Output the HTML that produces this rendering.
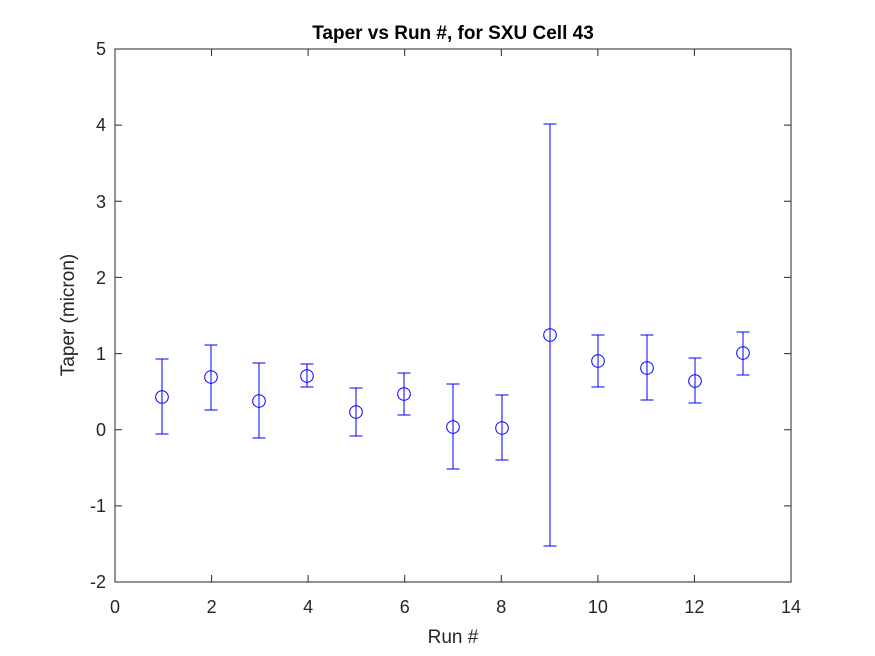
<!DOCTYPE html>
<html><head><style>body{margin:0;background:#fff}svg{display:block}</style></head>
<body>
<svg width="875" height="656" xmlns="http://www.w3.org/2000/svg" font-family="Liberation Sans, Arial, sans-serif">
<rect width="875" height="656" fill="#fff"/>
<rect x="115" y="49" width="676" height="533" fill="#fff" stroke="#262626" stroke-width="1"/>
<g stroke="#262626" stroke-width="1">
<path d="M115 582v-7M211.6 582v-7M308.1 582v-7M404.7 582v-7M501.3 582v-7M597.9 582v-7M694.4 582v-7M791 582v-7"/>
<path d="M115 49v7M211.6 49v7M308.1 49v7M404.7 49v7M501.3 49v7M597.9 49v7M694.4 49v7M791 49v7"/>
<path d="M115 49h7M115 125.1h7M115 201.3h7M115 277.4h7M115 353.6h7M115 429.7h7M115 505.9h7M115 582h7"/>
<path d="M791 49h-7M791 125.1h-7M791 201.3h-7M791 277.4h-7M791 353.6h-7M791 429.7h-7M791 505.9h-7M791 582h-7"/>
</g>
<g font-size="18" fill="#262626" text-anchor="middle">
<text x="115" y="613">0</text><text x="211.6" y="613">2</text><text x="308.1" y="613">4</text><text x="404.7" y="613">6</text><text x="501.3" y="613">8</text><text x="597.9" y="613">10</text><text x="694.4" y="613">12</text><text x="791" y="613">14</text>
</g>
<g font-size="18" fill="#262626" text-anchor="end">
<text x="106" y="55">5</text><text x="106" y="131">4</text><text x="106" y="208">3</text><text x="106" y="284">2</text><text x="106" y="360">1</text><text x="106" y="436">0</text><text x="106" y="512">-1</text><text x="106" y="588">-2</text>
</g>
<text x="453" y="643" font-size="19" fill="#262626" text-anchor="middle">Run #</text>
<text x="74" y="315" font-size="19" fill="#262626" text-anchor="middle" transform="rotate(-90 74 315)">Taper (micron)</text>
<text x="453" y="39" font-size="19" font-weight="bold" fill="#000" text-anchor="middle">Taper vs Run #, for SXU Cell 43</text>
<g stroke="#0000ff" stroke-width="1" fill="none">
<path d="M162 359V434M155.5 359h13M155.5 434h13"/><circle cx="162" cy="397" r="6.3"/>
<path d="M211 345V410M204.5 345h13M204.5 410h13"/><circle cx="211" cy="377" r="6.3"/>
<path d="M259 363V438M252.5 363h13M252.5 438h13"/><circle cx="259" cy="401" r="6.3"/>
<path d="M307 364V387M300.5 364h13M300.5 387h13"/><circle cx="307" cy="376" r="6.3"/>
<path d="M356 388V436M349.5 388h13M349.5 436h13"/><circle cx="356" cy="412" r="6.3"/>
<path d="M404 373V415M397.5 373h13M397.5 415h13"/><circle cx="404" cy="394" r="6.3"/>
<path d="M453 384V469M446.5 384h13M446.5 469h13"/><circle cx="453" cy="427" r="6.3"/>
<path d="M502 395V460M495.5 395h13M495.5 460h13"/><circle cx="502" cy="428" r="6.3"/>
<path d="M550 124V546M543.5 124h13M543.5 546h13"/><circle cx="550" cy="335" r="6.3"/>
<path d="M598 335V387M591.5 335h13M591.5 387h13"/><circle cx="598" cy="361" r="6.3"/>
<path d="M647 335V400M640.5 335h13M640.5 400h13"/><circle cx="647" cy="368" r="6.3"/>
<path d="M695 358V403M688.5 358h13M688.5 403h13"/><circle cx="695" cy="381" r="6.3"/>
<path d="M743 332V375M736.5 332h13M736.5 375h13"/><circle cx="743" cy="353" r="6.3"/>
</g>
</svg>
</body></html>
